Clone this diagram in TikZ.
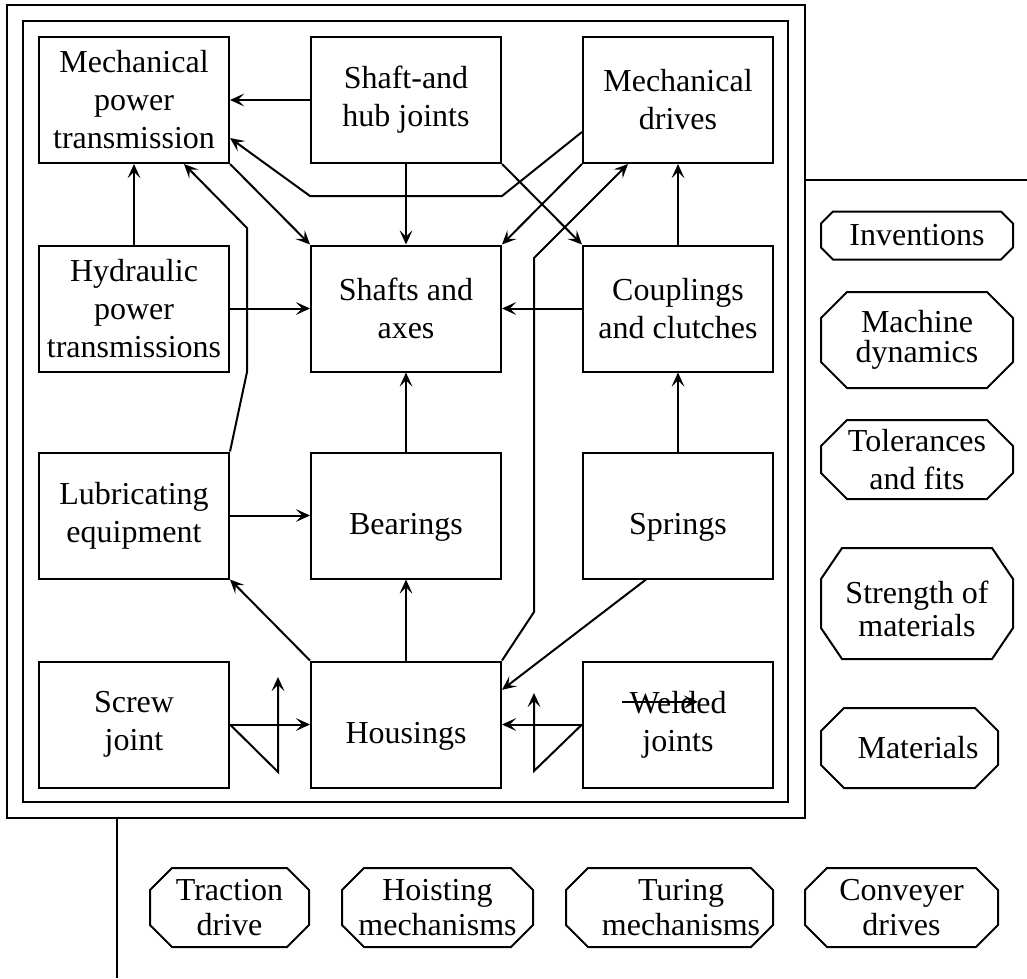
\documentclass[tikz,border=0pt]{standalone}
\usepackage{fontspec}
\setmainfont{Liberation Serif}
\usetikzlibrary{arrows.meta,calc}

% octagonal outline around a named node: #1 node, #2 horizontal cut, #3 vertical cut
\newcommand\octo[3]{%
  \draw ([xshift=#2]#1.north west) -- ([xshift=-#2]#1.north east)
    -- ([yshift=-#3]#1.north east) -- ([yshift=#3]#1.south east)
    -- ([xshift=-#2]#1.south east) -- ([xshift=#2]#1.south west)
    -- ([yshift=#3]#1.south west) -- ([yshift=-#3]#1.north west) -- cycle;}

\begin{document}
\begin{tikzpicture}[x=0.75pt,y=-0.75pt,line width=1.5pt,
  txt/.style={align=center,inner sep=0pt,font=\fontsize{24}{28.5}\selectfont},
  box/.style={txt,draw,minimum width=142.5pt,minimum height=94.5pt},
  one/.style={text height=28.5pt,text depth=0pt},
  frame/.style={draw,inner sep=0pt},
  area/.style={inner sep=0pt,minimum width=#1},
  >={Stealth[length=10.5pt,width=9.5pt,inset=4.5pt]}]
\useasboundingbox (0,0) rectangle (1027,978);

% double frame
\node[frame,minimum width=598.5pt,minimum height=609.75pt] (outer) at (406,411.5) {};
\node[frame,minimum width=573.75pt,minimum height=585.75pt] (inner) at (405.5,411.5) {};
\coordinate (rt) at (1027,180);
\coordinate (bt) at (117,978);
\draw (outer.east |- rt) -- (rt);
\draw (outer.south -| bt) -- (bt);

% blocks
\node[box] (mpt) at (134,100) {Mechanical\\power\\transmission};
\node[box] (shj) at (406,100) {Shaft-and\\hub joints};
\node[box] (md)  at (678,100) {Mechanical\\drives};
\node[box] (hpt) at (134,308.5) {Hydraulic\\power\\transmissions};
\node[box] (sa)  at (406,308.5) {Shafts and\\axes};
\node[box] (cc)  at (678,308.5) {Couplings\\and clutches};
\node[box] (lub) at (134,515.5) {Lubricating\\equipment};
\node[box,one] (bea) at (406,515.5) {Bearings};
\node[box,one] (spr) at (678,515.5) {Springs};
\node[box] (scr) at (134,724.5) {Screw\\joint};
\node[box,one] (hou) at (406,724.5) {Housings};
\node[box] (wel) at (678,724.5) {Welded\\joints};

% connectors
\draw[->] (shj.west) -- (mpt.east);
\draw[->] (shj.south) -- (sa.north);
\draw[->] (hpt.north) -- (mpt.south);
\draw[->] (hpt.east) -- (sa.west);
\draw[->] (mpt.south east) -- (sa.north west);
\draw[->] ([yshift=-24pt]md.west) -- (502,196) -- (310,196) -- ([yshift=-28.5pt]mpt.east);
\draw[->] (md.south west) -- (sa.north east);
\draw[->] (shj.south east) -- (cc.north west);
\draw[->] (hou.north east) -- (534,612) -- (534,258) -- ([xshift=-37.5pt]md.south);
\draw[->] (cc.north) -- (md.south);
\draw[->] (cc.west) -- (sa.east);
\draw[->] (lub.north east) -- (247,372) -- (247,228) -- ([xshift=37.5pt]mpt.south);
\draw[->] (lub.east) -- (bea.west);
\draw[->] (bea.north) -- (sa.south);
\draw[->] (spr.north) -- (cc.south);
\draw[->] ([xshift=-24pt]spr.south) -- ([yshift=26pt]hou.east);
\draw[->] (hou.north) -- (bea.south);
\draw[->] (hou.north west) -- (lub.south east);
\draw[->] (scr.east) -- (hou.west);
\draw[->] (scr.east) -- (278,772) -- (278,677);
\draw[->] (wel.west) -- (hou.east);
\draw[->] (wel.west) -- (534,771) -- (534,693);
\draw[->] ([xshift=-42pt,yshift=17pt]wel.center) -- ([xshift=15pt,yshift=17pt]wel.center);

% side topics
\node[txt,minimum width=142.5pt,minimum height=34.5pt] (inv) at (917,235.5) {Inventions};
\octo{inv}{9pt}{9pt}
\node[txt,minimum width=142.5pt,minimum height=70.5pt,font=\fontsize{24}{22}\selectfont] (dyn) at (917,340) {Machine\\dynamics};
\octo{dyn}{19.5pt}{19.5pt}
\node[txt,minimum width=142.5pt,minimum height=57.75pt] (tol) at (917,459.5) {Tolerances\\and fits};
\octo{tol}{19.5pt}{19.5pt}
\node[area=142.5pt,minimum height=81.75pt] (som) at (917,603.5) {};
\octo{som}{15.75pt}{23.25pt}
\node[txt,font=\fontsize{24}{25}\selectfont] (somt) at (917,609) {Strength of\\materials};
\node[area=131.25pt,minimum height=58.5pt] (mat) at (909.5,748) {};
\octo{mat}{17.25pt}{17.25pt}
\node[txt] (matt) at (918,748) {Materials};

% drive topics
\tikzset{low/.style={txt,minimum height=57.75pt,font=\fontsize{24}{26.25}\selectfont}}
\node[low,minimum width=117.75pt] (tra) at (229.5,907.5) {Traction\\drive};
\octo{tra}{16.5pt}{16.5pt}
\node[low,minimum width=141.75pt] (hoi) at (437.5,907.5) {Hoisting\\mechanisms};
\octo{hoi}{16.5pt}{16.5pt}
\node[area=153.75pt,minimum height=57.75pt] (tur) at (669.5,907.5) {};
\octo{tur}{16.5pt}{16.5pt}
\node[low,minimum height=0pt] (turt) at (681,907.5) {Turing\\mechanisms};
\node[low,minimum width=143.25pt] (con) at (901.5,907.5) {Conveyer\\drives};
\octo{con}{16.5pt}{16.5pt}
\end{tikzpicture}
\end{document}
